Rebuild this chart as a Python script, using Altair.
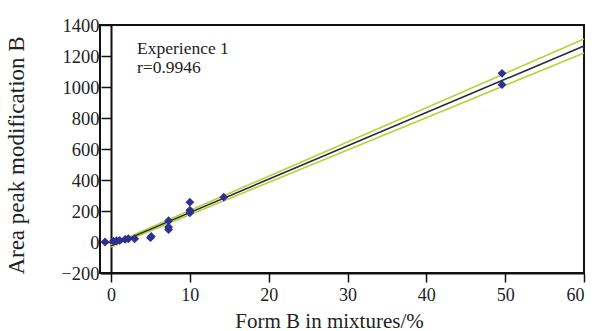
import altair as alt
import pandas as pd

# measured points
pt_x = [-0.76, 0.3, 0.7, 1.1, 1.8, 2.2, 3.0, 5.0, 5.1, 7.3, 7.3, 7.3, 10.0, 10.0, 10.0, 14.3, 49.6, 49.6]
pt_y = [0, 6, 8, 10, 17, 21, 21, 28, 36, 137, 96, 80, 257, 205, 188, 289, 1088, 1015]

# fitted line and band
fit_x = [0, 60]
fit_y = [-25, 1265]
upper_y = [-18, 1309]
lower_y = [-32, 1219]

x_ticks = [0, 10, 20, 30, 40, 50, 60]
y_ticks = [-200, 0, 200, 400, 600, 800, 1000, 1200, 1400]

note_lines = ["Experience 1", "r=0.9946"]

pts = pd.DataFrame({"x": pt_x, "y": pt_y})
lines = pd.DataFrame({
    "x": fit_x * 3,
    "y": fit_y + upper_y + lower_y,
    "s": ["fit"] * 2 + ["upper"] * 2 + ["lower"] * 2,
})

FONT = "Liberation Serif"
xs = alt.Scale(domain=[-1.4, 60], nice=False, zero=False)
ys = alt.Scale(domain=[-200, 1400], nice=False, zero=False)

xaxis = alt.Axis(values=x_ticks, title="Form B in mixtures/%",
                 grid=False, tickSize=9, labelPadding=4, titlePadding=6,
                 titleX=229, labelFontSize=18, titleFontSize=21, labelOverlap=False)
yaxis = alt.Axis(values=y_ticks, title="Area peak modification B",
                 format="d", grid=False, tickSize=10, labelPadding=2, offset=-11,
                 titleX=-83, titleY=130, titleBaseline="bottom", labelOverlap=False,
                 labelFontSize=18.5, titleFontSize=23)

X = alt.X("x:Q", scale=xs, axis=xaxis)
Y = alt.Y("y:Q", scale=ys, axis=yaxis)

band = alt.Chart(lines).transform_filter("datum.s != 'fit'").mark_line(
    color="#b5d334", strokeWidth=1.6).encode(x=X, y=Y, detail="s:N")
fit = alt.Chart(lines).transform_filter("datum.s == 'fit'").mark_line(
    color="#2a2a3a", strokeWidth=1.6).encode(x=X, y=Y)
points = alt.Chart(pts).mark_point(shape="diamond", filled=True, size=78, opacity=1,
                                   color="#2e3192").encode(x=X, y=Y)

note = pd.DataFrame({"t": note_lines})
t1 = alt.Chart(note).transform_filter(alt.datum.t == note_lines[0]).mark_text(
    align="left", baseline="alphabetic", font=FONT, fontSize=17.5, color="#222").encode(
    x=alt.value(37), y=alt.value(29), text="t:N")
t2 = alt.Chart(note).transform_filter(alt.datum.t == note_lines[1]).mark_text(
    align="left", baseline="alphabetic", font=FONT, fontSize=17.5, color="#222").encode(
    x=alt.value(37), y=alt.value(48), text="t:N")

chart = alt.layer(band, fit, points, t1, t2).properties(
    width=484, height=248,
    padding={"left": 100, "top": 25, "right": 12, "bottom": 58},
    autosize=alt.AutoSizeParams(type="none"),
).configure_view(stroke="#111", strokeWidth=2).configure_axis(
    labelFont=FONT, titleFont=FONT, labelOverlap=False,
    titleFontWeight="normal", labelColor="#222", titleColor="#222",
    domainColor="#111", tickColor="#111", domainWidth=2, tickWidth=1.5,
)

chart.save("out.html", embed_options={"renderer": "svg", "actions": False})
